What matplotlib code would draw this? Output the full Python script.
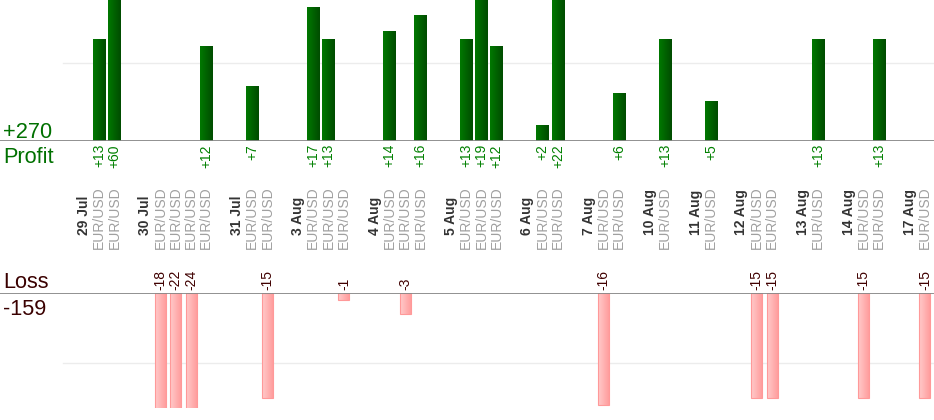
import numpy as np
import matplotlib
matplotlib.use('Agg')
import matplotlib.pyplot as plt
import matplotlib.transforms as mtransforms
from matplotlib.colors import LinearSegmentedColormap

plt.rcParams['font.family'] = ['Liberation Sans', 'DejaVu Sans']

# trading days and how many trades were closed on each
dates = ['29 Jul', '30 Jul', '31 Jul', '3 Aug', '4 Aug', '5 Aug', '6 Aug',
         '7 Aug', '10 Aug', '11 Aug', '12 Aug', '13 Aug', '14 Aug', '17 Aug']
trades_per_day = [2, 4, 2, 3, 3, 3, 2, 2, 1, 1, 2, 1, 2, 1]
pairs = ['EUR/USD'] * 29
# result of each trade in pips, in order
results = [13, 60, -18, -22, -24, 12, 7, -15, 17, 13, -1, 14, -3, 16,
           13, 19, 12, 2, 22, -16, 6, 13, 5, -15, -15, 13, -15, 13, -15]

total_profit = sum(r for r in results if r > 0)
total_loss = sum(r for r in results if r < 0)

# one slot for the date, one per trade, one empty slot after each day
date_pos = []
trade_pos = []
pos = 0
for n in trades_per_day:
    date_pos.append(pos)
    trade_pos += [pos + 1 + i for i in range(n)]
    pos += n + 2
trade_pos = np.array(trade_pos)
results = np.array(results)

W, H = 934, 420
fig = plt.figure(figsize=(W / 100, H / 100), dpi=100)

slot = 15.29
x0 = -84 / slot
xlim = (x0, x0 + W / slot)

ax_p = fig.add_axes([0, 1 - 141 / H, 1, 141 / H])
ax_l = fig.add_axes([0, 1 - 408 / H, 1, (408 - 292.5) / H])
for ax in (ax_p, ax_l):
    ax.set_axis_off()
    ax.set_xlim(*xlim)

green_cm = LinearSegmentedColormap.from_list('g', ['#007800', '#004c00'])
pink_cm = LinearSegmentedColormap.from_list('p', ['#ffcaca', '#ff9a9a'])
grad = np.linspace(0, 1, 32).reshape(1, -1)


def gradient_bars(ax, xs, heights, width, cmap, edge):
    for x, h in zip(xs, heights):
        lo, hi = min(0, h), max(0, h)
        ax.imshow(grad, cmap=cmap, aspect='auto', zorder=2,
                  extent=(x - width / 2, x + width / 2, lo, hi))
        if edge:
            ax.bar(x, h, width=width, fill=False, edgecolor=edge,
                   linewidth=0.8, zorder=3)


win = results > 0
gradient_bars(ax_p, trade_pos[win], results[win], 0.83, green_cm, None)
gradient_bars(ax_l, trade_pos[~win], results[~win], 0.72, pink_cm, '#ff9999')

ax_p.set_ylim(0, 141 / 7.84)
ax_l.set_ylim(-(408 - 292.5) / 7.03, 0)
for ax in (ax_p, ax_l):
    ax.set_xlim(*xlim)

ax_p.axhline(0, color='#888888', lw=1.3, zorder=4)
ax_l.axhline(0, color='#888888', lw=1.3, zorder=4)
ax_p.axhline(10, xmin=63 / W, color='#ececec', lw=1, zorder=1)
ax_l.axhline(-10, xmin=63 / W, color='#ececec', lw=1, zorder=1)

tr = mtransforms.blended_transform_factory(ax_p.transData, fig.transFigure)


def fy(px):
    return 1 - px / H


for x, r in zip(trade_pos, results):
    if r > 0:
        fig.text(x, fy(144), '+%d' % r, transform=tr, rotation=90,
                 ha='center', va='top', fontsize=10, color='#008000')
    else:
        fig.text(x, fy(290), '%d' % r, transform=tr, rotation=90,
                 ha='center', va='bottom', fontsize=10, color='#400000')

for x, p in zip(trade_pos, pairs):
    fig.text(x, fy(249), p, transform=tr, rotation=90, ha='center',
             va='bottom', fontsize=10, color='#a0a0a0')

for x, d in zip(date_pos, dates):
    fig.text(x, fy(235), d, transform=tr, rotation=90, ha='center',
             va='bottom', fontsize=10, fontweight='bold', color='#333333')

fig.text(3 / W, fy(138), '+%d' % total_profit, fontsize=15.7,
         color='#007000', ha='left', va='baseline')
fig.text(3 / W, fy(163), 'Profit', fontsize=15.7, color='#007000',
         ha='left', va='baseline')
fig.text(3 / W, fy(288), 'Loss', fontsize=15.7, color='#3a0000',
         ha='left', va='baseline')
fig.text(3 / W, fy(315), '%d' % total_loss, fontsize=15.7,
         color='#3a0000', ha='left', va='baseline')

fig.savefig('out.png', dpi=100)
plt.close(fig)
